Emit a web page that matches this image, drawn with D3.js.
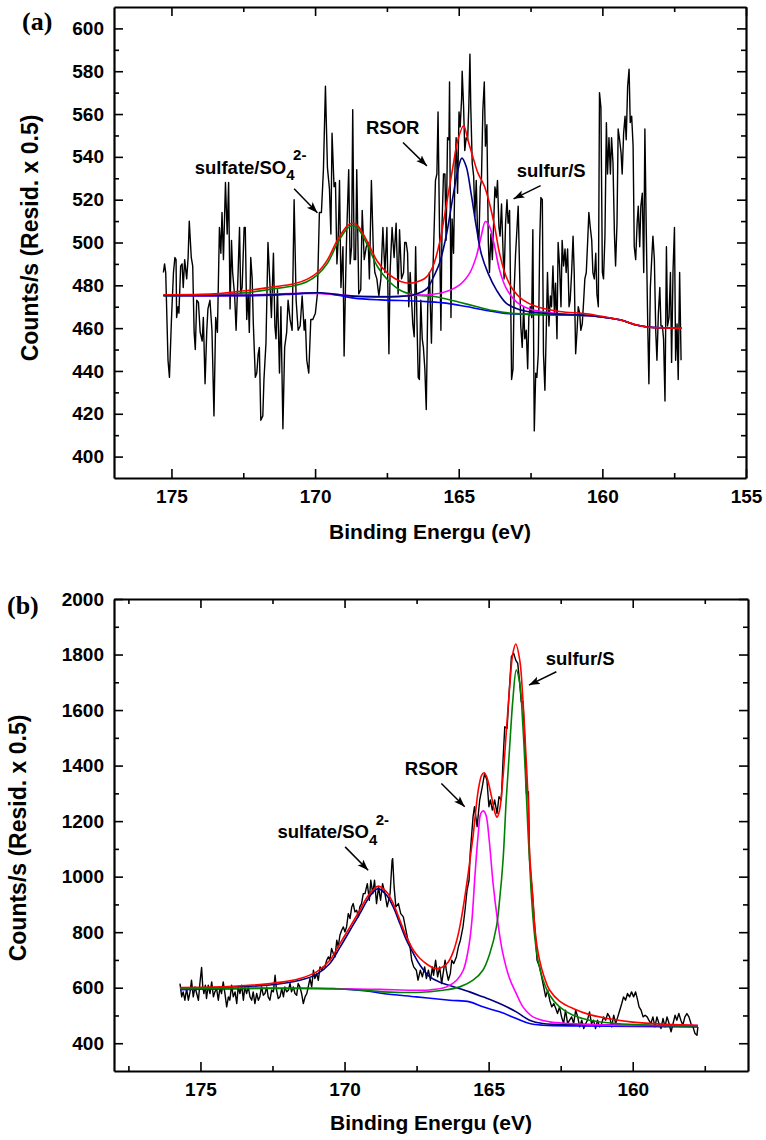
<!DOCTYPE html>
<html><head><meta charset="utf-8">
<script src="https://cdn.jsdelivr.net/npm/d3@7"></script>
<style>body{margin:0;background:#fff}svg{display:block}</style>
</head><body>
<svg id="chart" width="766" height="1140"></svg>
<script>
// ---------- Panel (a) data ----------
const aData = [
[175.28,486],[175.24,490],[175.20,486],[175.12,445],[175.07,437],[175.00,464],[174.93,486],[174.88,493],[174.84,492],[174.82,465],[174.77,470],[174.74,467],[174.68,489],[174.63,490],[174.59,479],[174.54,492],[174.47,483],[174.42,493],[174.38,510],[174.31,493],[174.26,489],[174.21,458],[174.17,450],[174.12,473],[174.06,472],[174.00,458],[173.93,454],[173.89,465],[173.83,434],[173.77,459],[173.73,469],[173.66,473],[173.59,459],[173.52,419],[173.46,465],[173.40,458],[173.33,507],[173.28,495],[173.24,514],[173.19,492],[173.12,528],[173.06,504],[173.01,528],[172.96,469],[172.91,501],[172.87,486],[172.80,475],[172.75,459],[172.68,486],[172.63,507],[172.59,476],[172.54,479],[172.47,507],[172.43,507],[172.38,464],[172.33,476],[172.29,458],[172.24,493],[172.19,483],[172.15,462],[172.08,437],[172.03,439],[171.98,448],[171.94,451],[171.89,417],[171.82,419],[171.78,436],[171.71,453],[171.64,500],[171.58,483],[171.52,465],[171.45,495],[171.40,461],[171.36,455],[171.31,478],[171.24,439],[171.19,470],[171.12,413],[171.06,451],[170.99,458],[170.94,473],[170.87,464],[170.80,459],[170.73,520],[170.66,473],[170.59,459],[170.52,461],[170.45,475],[170.38,459],[170.34,464],[170.29,445],[170.22,439],[170.15,464],[170.08,464],[169.99,467],[169.92,476],[169.85,514],[169.78,514],[169.71,534],[169.64,573],[169.57,535],[169.50,525],[169.45,504],[169.41,551],[169.34,526],[169.29,528],[169.24,490],[169.20,500],[169.15,529],[169.10,479],[169.03,498],[168.99,447],[168.94,481],[168.90,504],[168.83,534],[168.78,490],[168.73,498],[168.69,562],[168.64,492],[168.59,492],[168.55,534],[168.48,476],[168.41,478],[168.36,515],[168.29,492],[168.22,498],[168.15,500],[168.11,483],[168.04,529],[167.97,495],[167.92,486],[167.85,483],[167.78,475],[167.71,483],[167.64,507],[167.57,486],[167.50,507],[167.43,448],[167.39,486],[167.32,507],[167.25,493],[167.18,509],[167.11,476],[167.06,506],[166.99,483],[166.92,486],[166.88,500],[166.83,500],[166.78,495],[166.74,470],[166.69,486],[166.60,462],[166.55,456],[166.50,498],[166.46,467],[166.41,437],[166.37,436],[166.32,473],[166.27,455],[166.23,451],[166.18,441],[166.13,422],
[166.08,470],[166.02,486],[165.95,453],[165.90,486],[165.85,509],[165.81,529],[165.76,532],[165.72,561],[165.67,507],[165.62,459],[165.58,509],[165.53,532],[165.48,532],[165.44,501],[165.39,549],[165.34,548],[165.32,575],[165.27,465],[165.23,511],[165.18,495],[165.13,534],[165.09,549],[165.04,523],[164.99,561],[164.95,554],[164.90,567],[164.88,580],[164.83,563],[164.79,543],[164.74,549],[164.69,548],[164.65,563],[164.61,588],[164.58,563],[164.53,537],[164.48,531],[164.44,512],[164.39,529],[164.35,507],[164.30,500],[164.25,526],[164.21,529],[164.16,562],[164.11,575],[164.07,545],[164.02,555],[163.97,500],[163.93,486],[163.88,504],[163.83,492],[163.79,507],[163.74,526],[163.69,521],[163.65,529],[163.60,507],[163.56,503],[163.51,518],[163.46,497],[163.42,483],[163.37,509],[163.32,520],[163.28,509],[163.23,515],[163.18,461],[163.16,436],[163.11,441],[163.07,478],[163.02,495],[162.97,507],[162.93,517],[162.88,486],[162.84,461],[162.79,451],[162.74,470],[162.70,455],[162.65,459],[162.60,441],[162.56,465],[162.51,470],[162.46,465],[162.42,506],[162.37,412],[162.32,439],[162.28,437],[162.23,448],[162.18,501],[162.14,521],[162.09,520],[162.05,448],[162.00,431],[161.95,461],[161.91,486],[161.86,461],[161.81,475],[161.77,470],[161.72,489],[161.67,467],[161.63,481],[161.58,455],[161.54,500],[161.49,489],[161.44,470],[161.40,501],[161.35,489],[161.30,497],[161.26,486],[161.21,497],[161.16,470],[161.12,473],[161.07,486],[161.02,503],[160.98,486],[160.93,448],[160.88,459],[160.84,470],[160.79,467],[160.75,459],[160.70,462],[160.65,473],[160.61,483],[160.56,486],[160.51,501],[160.47,514],[160.42,507],[160.37,501],[160.33,486],[160.28,483],[160.23,495],[160.19,476],[160.14,470],[160.10,570],[160.05,563],[160.00,486],[159.96,483],[159.91,503],[159.86,556],[159.82,532],[159.77,549],[159.72,532],[159.68,549],[159.63,537],[159.58,504],[159.54,489],[159.49,509],[159.45,553],[159.40,548],[159.35,542],[159.31,532],[159.26,551],[159.21,559],[159.17,548],[159.12,573],[159.07,581],[159.03,556],[158.98,559],[158.93,545],[158.89,498],[158.84,492],[158.79,509],[158.75,517],[158.70,498],[158.66,517],[158.61,523],[158.56,486],[158.52,553],[158.47,504],[158.42,461],[158.38,434],[158.33,479],[158.28,493],[158.24,503],[158.19,492],[158.14,458],[158.10,445],[158.05,467],[158.00,479],[157.96,461],[157.91,461],[157.87,455],[157.82,426],[157.77,498],[157.73,461],[157.68,465],[157.63,486],[157.59,444],[157.54,487],[157.49,507],[157.45,445],[157.40,462],[157.36,436],[157.31,486],[157.26,445]
];
const aBackground = [[175.28,475.1],[172.5,475.1],[171.5,475.4],[170.6,476],[169.8,476.3],[169.1,475.1],[168.64,474],[167.71,473.2],[166.55,472.7],[166.13,472.4],[165.44,471.7],[164.74,470.1],[164.16,468.6],[163.23,466.7],[161.49,466.2],[160.33,465.7],[159.4,463.9],[158.82,461.5],[158.41,460.5],[157.25,460]];
const aRSOR = [[175.28,475.3],[172.5,475.3],[171.5,475.6],[170.6,476.2],[169.8,476.5],[169.1,475.5],[168.5,474.8],[167.5,474.6],[167.02,474.8],[166.55,475.6],[166.09,478.7],[165.9,483.3],[165.67,490.3],[165.44,502.8],[165.2,521.5],[165.03,533.9],[164.89,539.4],[164.74,535.5],[164.57,523],[164.39,507.5],[164.22,495],[163.98,485.7],[163.69,477.9],[163.35,471.7],[162.88,468.6],[162.07,467],[160.91,466.2],[160.33,465.7],[159.4,463.9],[158.82,461.5],[158.41,460.5],[157.25,460]];
const aSulfur = [[175.28,475.4],[172.5,475.4],[170.5,476.3],[169.5,476],[168.5,475],[167.5,474.8],[166.55,475.4],[166.13,475.5],[165.55,476.6],[164.97,480.2],[164.62,485.7],[164.39,493.4],[164.22,502.8],[164.07,509.8],[163.93,507.5],[163.75,498.1],[163.58,487.2],[163.35,478.7],[163.0,472.4],[162.53,468.9],[161.72,467],[160.79,466],[160.33,465.7],[159.4,463.9],[158.82,461.5],[158.41,460.5],[157.25,460]];
const aSulfate = [[175.28,475.1],[173.52,475.6],[172.36,476.6],[171.54,478.2],[170.73,479.8],[170.27,481.8],[169.92,484.9],[169.57,490.3],[169.22,499.7],[168.87,506.7],[168.70,507.9],[168.52,506.7],[168.18,498.9],[167.83,488.8],[167.48,482.6],[167.02,477.6],[166.55,475.6],[165.85,474.8],[165.55,474.0],[164.97,472.1],[164.39,470.1],[163.81,468.2],[163.23,467],[161.49,466.2],[160.33,465.7],[159.4,463.9],[158.82,461.5],[158.41,460.5],[157.25,460]];
const aEnvelope = [[175.28,475.6],[173.52,476],[172.36,477.6],[171.54,479.1],[170.73,480.7],[170.27,482.9],[169.92,486],[169.57,491.9],[169.22,501.2],[168.87,507.9],[168.70,509],[168.52,507.9],[168.18,500.4],[167.83,491.1],[167.48,485.7],[167.02,481.8],[166.67,481],[166.32,482.2],[166.13,483.8],[165.90,488.8],[165.67,499.7],[165.44,516.8],[165.20,535.5],[165.03,547.9],[164.83,554.5],[164.68,547.9],[164.51,540.1],[164.33,532.4],[164.10,526.1],[163.93,518.3],[163.75,507.5],[163.58,495],[163.35,484.1],[163.11,477.9],[162.77,473.2],[162.30,470.1],[161.49,467.8],[160.56,466.7],[159.98,465.4],[159.40,463.9],[158.93,462],[158.47,460.5],[157.25,460]];
const aXTicks = [175,170,165,160,155];
const aXMinor = [172.5,167.5,162.5,157.5];
const aYTicks = [400,420,440,460,480,500,520,540,560,580,600];
const aYMinor = [410,430,450,470,490,510,530,550,570,590];

// ---------- Panel (b) data ----------
const bData = [
[175.71,615],[175.65,567],[175.60,585],[175.54,555],[175.48,597],[175.42,555],[175.36,585],[175.31,627],[175.25,567],[175.19,603],[175.13,579],[175.07,555],[175.02,615],[174.96,673],[174.92,603],[174.88,579],[174.83,609],[174.79,561],[174.73,609],[174.67,579],[174.61,621],[174.55,567],[174.50,585],[174.44,597],[174.38,555],[174.32,603],[174.27,579],[174.21,621],[174.15,579],[174.09,531],[174.03,567],[173.98,555],[173.92,609],[173.86,567],[173.80,585],[173.74,543],[173.69,603],[173.63,579],[173.57,609],[173.51,555],[173.46,603],[173.40,579],[173.34,603],[173.28,567],[173.22,555],[173.17,585],[173.11,543],[173.05,579],[172.99,555],[172.94,567],[172.88,603],[172.82,573],[172.76,579],[172.70,603],[172.65,567],[172.59,555],[172.53,591],[172.47,585],[172.41,645],[172.36,591],[172.30,561],[172.24,567],[172.18,597],[172.12,567],[172.07,603],[172.01,585],[171.95,591],[171.89,615],[171.84,585],[171.78,603],[171.72,579],[171.66,573],[171.61,615],[171.55,603],[171.49,579],[171.43,543],[171.37,567],[171.31,579],[171.26,603],[171.20,633],[171.14,603],[171.08,663],[171.03,633],[170.97,651],[170.91,627],[170.85,675],[170.79,663],[170.74,675],[170.68,675],[170.62,699],[170.56,711],[170.51,699],[170.45,741],[170.39,723],[170.33,711],[170.27,771],[170.22,747],[170.16,789],[170.10,807],[170.04,819],[169.99,801],[169.93,819],[169.87,867],[169.81,849],[169.75,891],[169.70,903],[169.64,873],[169.58,879],[169.52,855],[169.47,891],[169.41,903],[169.35,939],
[169.29,939],[169.21,975],[169.14,915],[169.09,987],[169.02,939],[168.96,987],[168.89,903],[168.82,963],[168.75,915],[168.68,975],[168.60,939],[168.52,891],[168.42,939],[168.35,1059],[168.33,1065],[168.28,963],[168.22,891],[168.13,903],[168.05,867],[167.96,855],[167.87,807],
[167.80,771],[167.74,759],[167.67,699],[167.60,675],[167.51,663],[167.45,627],[167.37,663],[167.30,639],[167.22,675],[167.16,633],[167.09,663],[167.02,627],[166.95,675],[166.91,645],[166.84,699],[166.77,639],[166.70,675],[166.63,615],[166.58,651],[166.51,699],[166.47,663],[166.40,627],[166.33,651],[166.28,699],[166.21,687],[166.12,711],[166.05,747],[165.98,771],[165.89,819],[165.82,879],[165.75,951],[165.68,987],
[165.64,1083],[165.54,1216],[165.49,1252],[165.40,1180],[165.31,1276],[165.22,1324],[165.14,1372],[165.06,1348],[164.99,1252],[164.94,1276],[164.87,1240],[164.79,1276],[164.71,1228],[164.64,1288],[164.56,1276],[164.50,1420],[164.44,1540],[164.36,1534],[164.29,1660],[164.21,1792],[164.13,1804],[164.06,1780],[163.99,1768],[163.92,1696],[163.87,1630],[163.81,1630],[163.75,1504],[163.69,1300],[163.62,1306],
[163.58,1059],[163.48,939],[163.40,819],[163.32,699],[163.23,675],[163.16,639],[163.09,603],[163.02,567],[162.95,591],[162.88,555],[162.81,531],[162.74,543],[162.67,525],[162.61,507],[162.54,531],[162.47,495],[162.40,471],[162.33,519],[162.26,471],[162.19,483],[162.12,495],[162.05,471],[161.98,519],[161.91,495],[161.84,459],[161.77,483],[161.70,453],[161.63,471],[161.57,483],[161.50,513],[161.43,471],[161.36,483],[161.29,453],[161.22,483],[161.15,459],[161.08,471],[161.01,495],[160.94,483],[160.87,507],[160.80,495],[160.73,459],[160.66,501],[160.59,471],[160.52,495],[160.45,519],[160.38,543],[160.32,567],[160.25,555],[160.18,579],[160.11,567],[160.04,585],[159.97,567],[159.90,585],[159.83,555],[159.78,531],[159.71,519],[159.64,495],[159.57,501],[159.50,495],[159.44,483],[159.37,471],[159.30,495],[159.23,459],[159.16,495],[159.09,471],[159.02,453],[158.95,489],[158.88,459],[158.81,495],[158.74,471],[158.67,441],[158.60,471],[158.53,501],[158.47,483],[158.40,507],[158.33,483],[158.26,465],[158.19,495],[158.12,507],[158.05,495],[157.98,471],[157.91,459],[157.84,435],[157.77,429],[157.74,459]
];
const bBackground = [[175.71,593],[170.39,597],[169.23,588],[168.67,579],[167.51,567],[166.35,555],[165.66,549],[165.2,531],[164.62,513],[164.04,489],[163.58,471],[163.12,465],[161.73,462],[157.74,459]];
const bSulfate = [[175.71,597],[172.70,609],[171.55,627],[170.97,648],[170.51,687],[170.16,745],[169.81,807],[169.47,867],[169.23,912],[169.0,945],[168.83,957],[168.54,933],[168.31,891],[168.08,831],[167.85,771],[167.61,723],[167.38,681],[167.04,639],[166.69,620],[166.30,606],[165.66,585],[165.2,567],[164.62,543],[164.04,513],[163.58,483],[163.12,471],[161.73,467],[157.74,462]];
const bRSOR = [[175.71,597],[172.24,598],[170,596],[168.77,594],[167.61,591],[167.04,592],[166.46,603],[166.11,627],[165.88,663],[165.71,735],[165.59,831],[165.47,1011],[165.36,1155],[165.27,1228],[165.18,1237],[165.09,1221],[164.98,1131],[164.84,970],[164.70,850],[164.52,730],[164.27,632],[164.04,579],[163.81,531],[163.46,495],[162.88,477],[162.19,471],[161.15,466],[159.41,464],[157.74,465]];
const bSulfur = [[175.71,597],[171,597],[169.5,592],[168.67,585],[167.51,583],[166.58,591],[166.0,603],[165.54,627],[165.2,663],[164.96,723],[164.73,819],[164.62,915],[164.5,1059],[164.39,1276],[164.27,1468],[164.16,1636],[164.04,1744],[163.92,1696],[163.81,1540],[163.72,1360],[163.63,1155],[163.58,1059],[163.52,939],[163.4,783],[163.29,699],[163.11,627],[162.88,573],[162.54,531],[162.07,501],[161.5,483],[160.57,471],[159.41,465],[157.74,462]];
const bEnvelope = [[175.71,601],[173.86,605],[172.12,621],[171.55,633],[170.97,657],[170.51,699],[170.16,759],[169.81,819],[169.47,879],[169.23,924],[169.0,953],[168.83,966],[168.54,945],[168.31,903],[168.08,843],[167.85,783],[167.61,735],[167.38,705],[167.09,681],[166.86,669],[166.63,673],[166.40,693],[166.23,729],[166.05,795],[165.88,891],[165.71,1011],[165.53,1155],[165.36,1312],[165.24,1366],[165.16,1374],[165.07,1360],[164.90,1288],[164.78,1230],[164.71,1214],[164.62,1240],[164.50,1360],[164.39,1516],[164.27,1684],[164.16,1804],[164.06,1838],[163.92,1780],[163.81,1636],[163.72,1468],[163.63,1276],[163.58,1090],[163.46,915],[163.40,820],[163.29,730],[163.11,651],[162.88,591],[162.54,552],[162.07,525],[161.5,503],[160.8,488],[160.0,476],[158.84,468],[157.74,464]];
const bXTicks = [175,170,165,160];
const bXMinor = [177.5,172.5,167.5,162.5,157.5];
const bYTicks = [400,600,800,1000,1200,1400,1600,1800,2000];
const bYMinor = [500,700,900,1100,1300,1500,1700,1900];

// ---------- annotation anchors (data units) ----------
const aNotes = [
  {text:"sulfate/SO", sub:"4", sup:"2-", at:[174.19,532.2], arrow:[[170.73,525.1],[169.92,513.9]]},
  {text:"RSOR", at:[168.23,550.7], arrow:[[166.94,546.7],[166.11,535.8]]},
  {text:"sulfur/S", at:[162.98,530.7], arrow:[[162.15,526.6],[163.09,520.4]]}
];
const bNotes = [
  {text:"sulfate/SO", sub:"4", sup:"2-", at:[172.33,1138.6], arrow:[[169.98,1107.3],[169.18,1023.3]]},
  {text:"RSOR", at:[167.91,1365.7], arrow:[[166.64,1335.8],[165.83,1251.5]]},
  {text:"sulfur/S", at:[163.02,1762.1], arrow:[[162.65,1738],[163.60,1690]]}
];

const SANS = "'Liberation Sans', Arial, Helvetica, sans-serif";
const SERIF = "'Liberation Serif', 'Times New Roman', serif";
const svg = d3.select("#chart");
svg.append("rect").attr("width",766).attr("height",1140).attr("fill","#fff");
const defs = svg.append("defs");
defs.append("marker").attr("id","arr").attr("markerUnits","userSpaceOnUse")
  .attr("markerWidth",12).attr("markerHeight",10).attr("refX",11).attr("refY",4).attr("orient","auto")
  .append("path").attr("d","M0,0 L11,4 L0,8 L2.5,4 Z").attr("fill","#000");

function panel(cfg){
  const x = d3.scaleLinear().domain(cfg.xDomain).range([cfg.left,cfg.right]);
  const y = d3.scaleLinear().domain(cfg.yDomain).range([cfg.bottom,cfg.top]);
  const g = svg.append("g");
  const raw = d3.line().x(d=>x(d[0])).y(d=>y(d[1]));
  const smooth = d3.line().x(d=>x(d[0])).y(d=>y(d[1])).curve(d3.curveCatmullRom.alpha(0.5));
  g.append("path").datum(cfg.data).attr("d",raw).attr("fill","none")
    .attr("stroke","#000").attr("stroke-width",1.4).attr("stroke-linejoin","round");
  cfg.fits.forEach(f=>{
    g.append("path").datum(f.values).attr("d",smooth).attr("fill","none")
      .attr("stroke",f.color).attr("stroke-width",1.6);
  });
  function styleAxis(sel){
    sel.select(".domain").attr("stroke","#000").attr("stroke-width",2.2);
    sel.selectAll(".tick line").attr("stroke","#000").attr("stroke-width",1.6);
    sel.selectAll(".tick text").attr("font-family",SANS).attr("font-weight","bold")
      .attr("font-size",19).attr("fill","#000");
  }
  const fmt = d3.format("d");
  [[d3.axisBottom,cfg.bottom,cfg.xMinor,x,"h"],[d3.axisTop,cfg.top,cfg.xMinor,x,"h"],
   [d3.axisLeft,cfg.left,cfg.yMinor,y,"v"],[d3.axisRight,cfg.right,cfg.yMinor,y,"v"]].forEach(a=>{
    const ax = a[0](a[3]).tickValues(a[2]).tickSizeInner(-5).tickSizeOuter(0).tickFormat("");
    const s = g.append("g").attr("transform", a[4]==="h" ? `translate(0,${a[1]})` : `translate(${a[1]},0)`).call(ax);
    s.select(".domain").remove();
    s.selectAll(".tick line").attr("stroke","#000").attr("stroke-width",1.6);
  });
  const bot = g.append("g").attr("transform",`translate(0,${cfg.bottom})`)
    .call(d3.axisBottom(x).tickValues(cfg.xTicks).tickSizeInner(-9).tickSizeOuter(0).tickPadding(11.5).tickFormat(fmt));
  styleAxis(bot);
  const top = g.append("g").attr("transform",`translate(0,${cfg.top})`)
    .call(d3.axisTop(x).tickValues(cfg.xTicks).tickSizeInner(-9).tickSizeOuter(0).tickFormat(""));
  styleAxis(top);
  const lef = g.append("g").attr("transform",`translate(${cfg.left},0)`)
    .call(d3.axisLeft(y).tickValues(cfg.yTicks).tickSizeInner(-9).tickSizeOuter(0).tickPadding(10).tickFormat(fmt));
  styleAxis(lef);
  const rig = g.append("g").attr("transform",`translate(${cfg.right},0)`)
    .call(d3.axisRight(y).tickValues(cfg.yTicks).tickSizeInner(-9).tickSizeOuter(0).tickFormat(""));
  styleAxis(rig);
  g.append("text").attr("x",(cfg.left+cfg.right)/2).attr("y",cfg.xTitleY)
    .attr("text-anchor","middle").attr("font-family",SANS).attr("font-weight","bold")
    .attr("font-size",21).text("Binding Energu (eV)");
  g.append("text").attr("transform",`translate(${cfg.yTitleX},${cfg.yTitleY}) rotate(-90)`)
    .attr("text-anchor","middle").attr("font-family",SANS).attr("font-weight","bold")
    .attr("font-size",23).text("Counts/s (Resid. x 0.5)");
  g.append("text").attr("x",cfg.labelX).attr("y",cfg.labelY).attr("font-family",SERIF)
    .attr("font-weight","bold").attr("font-size",26).text(cfg.label);
  cfg.notes.forEach(n=>{
    const t = g.append("text").attr("x",x(n.at[0])).attr("y",y(n.at[1]))
      .attr("font-family",SANS).attr("font-weight","bold").attr("font-size",18.5);
    t.append("tspan").text(n.text);
    if(n.sub){
      t.append("tspan").attr("font-size",15).attr("dy",6.5).text(n.sub);
      t.append("tspan").attr("font-size",15).attr("dx",-1.5).attr("dy",-20).text(n.sup);
    }
    g.append("line").attr("x1",x(n.arrow[0][0])).attr("y1",y(n.arrow[0][1]))
      .attr("x2",x(n.arrow[1][0])).attr("y2",y(n.arrow[1][1]))
      .attr("stroke","#000").attr("stroke-width",1.5).attr("marker-end","url(#arr)");
  });
}

panel({xDomain:[177,155], yDomain:[390,610], left:114, right:746, top:7, bottom:478,
  data:aData,
  fits:[{values:aBackground,color:"#0000ff"},{values:aSulfate,color:"#008000"},
        {values:aSulfur,color:"#ff00ff"},{values:aRSOR,color:"#000080"},{values:aEnvelope,color:"#ff0000"}],
  xTicks:aXTicks, xMinor:aXMinor, yTicks:aYTicks, yMinor:aYMinor,
  xTitleY:539, yTitleX:38, yTitleY:238, label:"(a)", labelX:22, labelY:30, notes:aNotes});

panel({xDomain:[178,156], yDomain:[300,2000], left:114, right:748, top:599, bottom:1071,
  data:bData,
  fits:[{values:bBackground,color:"#0000ff"},{values:bSulfate,color:"#000080"},
        {values:bRSOR,color:"#ff00ff"},{values:bSulfur,color:"#008000"},{values:bEnvelope,color:"#ff0000"}],
  xTicks:bXTicks, xMinor:bXMinor, yTicks:bYTicks, yMinor:bYMinor,
  xTitleY:1130, yTitleX:26, yTitleY:838, label:"(b)", labelX:7, labelY:614, notes:bNotes});
</script>
</body></html>
